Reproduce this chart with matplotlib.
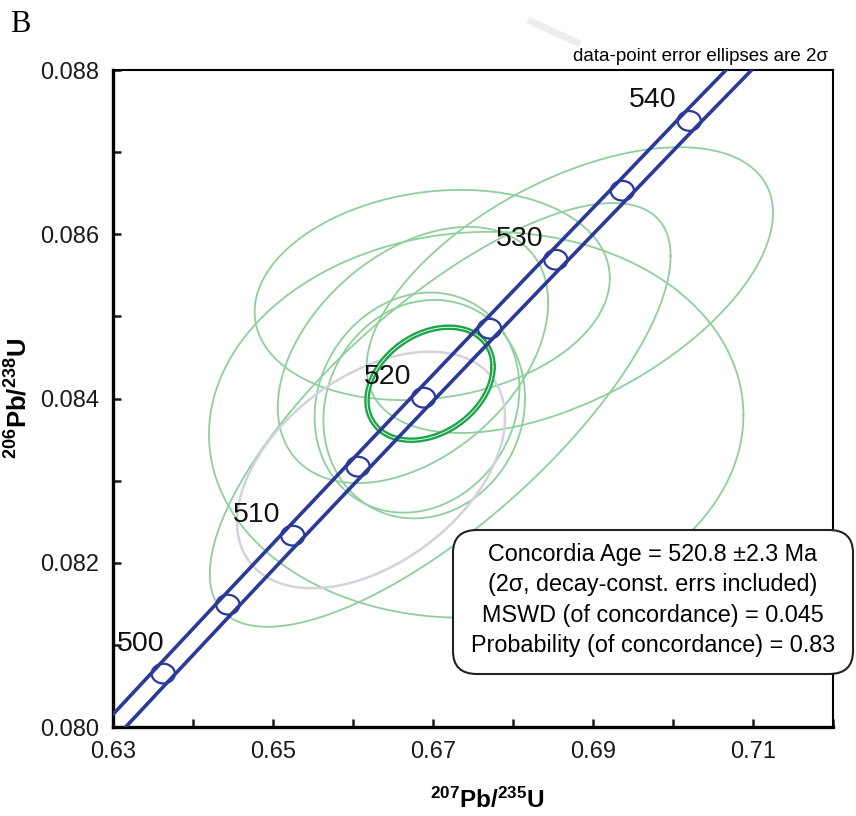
import numpy as np
import matplotlib
matplotlib.use("Agg")
import matplotlib.pyplot as plt
from matplotlib.patches import Ellipse, FancyBboxPatch

plt.rcParams['font.family'] = ['Liberation Sans', 'DejaVu Sans']
plt.rcParams['mathtext.fontset'] = 'custom'
plt.rcParams['mathtext.rm'] = 'Liberation Sans'
plt.rcParams['mathtext.bf'] = 'Liberation Sans:bold'

# concordia curve (age in Ma -> 207Pb/235U, 206Pb/238U)
ages = [495, 500, 505, 510, 515, 520, 525, 530, 535, 540, 545, 550]
conc_x = [0.62824, 0.63628, 0.64436, 0.65247, 0.66063, 0.66883,
          0.67707, 0.68535, 0.69367, 0.70203, 0.71043, 0.71887]
conc_y = [0.07981, 0.08065, 0.08149, 0.08233, 0.08317, 0.08401,
          0.08485, 0.08569, 0.08653, 0.08738, 0.08822, 0.08906]
band_err = 0.00016   # decay-constant band half width (206/238)
marker_ages = [500, 505, 510, 515, 520, 525, 530, 535, 540]
label_ages = [500, 510, 520, 530, 540]

# data-point error ellipses: centre, 2 sigma errors, rho
ell_x   = [0.6871, 0.6699, 0.6709, 0.6754, 0.6680, 0.6689, 0.6675]
ell_xe  = [0.0254, 0.0222, 0.0288, 0.0334, 0.0128, 0.0126, 0.0169]
ell_y   = [0.08532, 0.08526, 0.08380, 0.08368, 0.08395, 0.08387, 0.08453]
ell_ye  = [0.00174, 0.00128, 0.00258, 0.00235, 0.00134, 0.00133, 0.00156]
ell_rho = [0.54, 0.16, 0.75, 0.05, 0.13, 0.10, 0.41]

# rejected point (grey)
grey_x, grey_xe, grey_y, grey_ye, grey_rho = 0.66225, 0.01675, 0.08313, 0.00144, 0.44
# concordia age ellipse
ca_x, ca_xe, ca_y, ca_ye, ca_rho = 0.66963, 0.00788, 0.08418, 0.000688, 0.30

xticks = [0.63, 0.64, 0.65, 0.66, 0.67, 0.68, 0.69, 0.70, 0.71, 0.72]
xlabels = ['0.63', '', '0.65', '', '0.67', '', '0.69', '', '0.71', '']
yticks = [0.080, 0.081, 0.082, 0.083, 0.084, 0.085, 0.086, 0.087, 0.088]
ylabels = ['0.080', '', '0.082', '', '0.084', '', '0.086', '', '0.088']

info = ("Concordia Age = 520.8 \u00b12.3 Ma\n"
        "(2\u03c3, decay-const. errs included)\n"
        "MSWD (of concordance) = 0.045\n"
        "Probability (of concordance) = 0.83")

BLUE = '#2b3a98'
GREEN = '#8fcf9c'
DGREEN = '#1ea54a'
GREY = '#d3d3dd'


def ellipse_xy(cx, ex, cy, ey, rho, n=300):
    t = np.linspace(0, 2 * np.pi, n)
    x = cx + ex * np.cos(t)
    y = cy + ey * (rho * np.cos(t) + np.sqrt(1 - rho ** 2) * np.sin(t))
    return x, y


fig = plt.figure(figsize=(8.56, 8.16), dpi=100)
ax = fig.add_axes([113 / 856, 89 / 816, 720 / 856, 657 / 816])

# faint watermark stroke at the top
fig.add_artist(plt.Line2D([528 / 856, 580 / 856], [1 - 20 / 816, 1 - 44 / 816],
                          color='#ededed', lw=5, solid_capstyle='butt'))

# data ellipses
for i in range(len(ell_x)):
    x, y = ellipse_xy(ell_x[i], ell_xe[i], ell_y[i], ell_ye[i], ell_rho[i])
    ax.plot(x, y, color=GREEN, lw=1.3, zorder=2)

x, y = ellipse_xy(grey_x, grey_xe, grey_y, grey_ye, grey_rho)
ax.plot(x, y, color=GREY, lw=1.8, zorder=2)

# concordia age ellipse (double line)
x, y = ellipse_xy(ca_x, ca_xe, ca_y, ca_ye, ca_rho)
ax.plot(x, y, color=DGREEN, lw=4.0, zorder=3)
ax.plot(x, y, color='white', lw=0.6, zorder=3)

# concordia band
cx = np.array(conc_x)
cy = np.array(conc_y)
ax.plot(cx, cy + band_err, color=BLUE, lw=2.6, zorder=5, solid_capstyle='butt')
ax.plot(cx, cy - band_err, color=BLUE, lw=2.6, zorder=5, solid_capstyle='butt')

# age markers
for a in marker_ages:
    k = ages.index(a)
    e = Ellipse((conc_x[k], conc_y[k]), width=0.0029, height=0.00024,
                fc='white', ec=BLUE, lw=1.6, zorder=4)
    ax.add_patch(e)

for a in label_ages:
    k = ages.index(a)
    off = (-16, 21) if a == 500 else (-26, 15)
    ax.annotate(str(a), (conc_x[k], conc_y[k]), xytext=off,
                textcoords='offset points', ha='center', va='center',
                fontsize=20.5, color='#111111', zorder=6)

ax.set_xlim(0.63, 0.72)
ax.set_ylim(0.080, 0.088)
ax.set_xticks(xticks)
ax.set_xticklabels(xlabels)
ax.set_yticks(yticks)
ax.set_yticklabels(ylabels)
ax.tick_params(direction='in', length=6, width=1.8, labelsize=17,
               pad=10, colors='#1a1a1a')

for s in ['left', 'bottom']:
    ax.spines[s].set_linewidth(2.4)
for s in ['top', 'right']:
    ax.spines[s].set_linewidth(1.5)

ax.set_xlabel(r'$\mathbf{{}^{207}Pb/{}^{235}U}$', fontsize=17.5)
ax.xaxis.set_label_coords(0.52, -(800 - 727) / 657)
ax.xaxis.label.set_va('center')
ax.set_ylabel(r'$\mathbf{{}^{206}Pb/{}^{238}U}$', fontsize=18.5)
ax.yaxis.set_label_coords(-(113 - 19) / 720, 0.5)
ax.yaxis.label.set_va('center')

ax.text(1.0 - 5 / 720, 1.0 + 5 / 657, 'data-point error ellipses are 2\u03c3',
        transform=ax.transAxes, ha='right', va='bottom', fontsize=13.5)

fig.text(10 / 856, 1 - 24 / 816, 'B', family='Liberation Serif', fontsize=22,
         ha='left', va='center')

# result box
box = FancyBboxPatch((453 / 856, 1 - 674 / 816), 400 / 856, 144 / 816,
                     boxstyle='round,pad=0,rounding_size=0.028',
                     transform=fig.transFigure, fc='white', ec='#222222',
                     lw=1.5, zorder=7, clip_on=False)
fig.patches.append(box)
fig.text(653 / 856, 1 - 600 / 816, info, ha='center', va='center',
         fontsize=16.8, linespacing=1.42, zorder=8)

plt.savefig('out.png', dpi=100)
